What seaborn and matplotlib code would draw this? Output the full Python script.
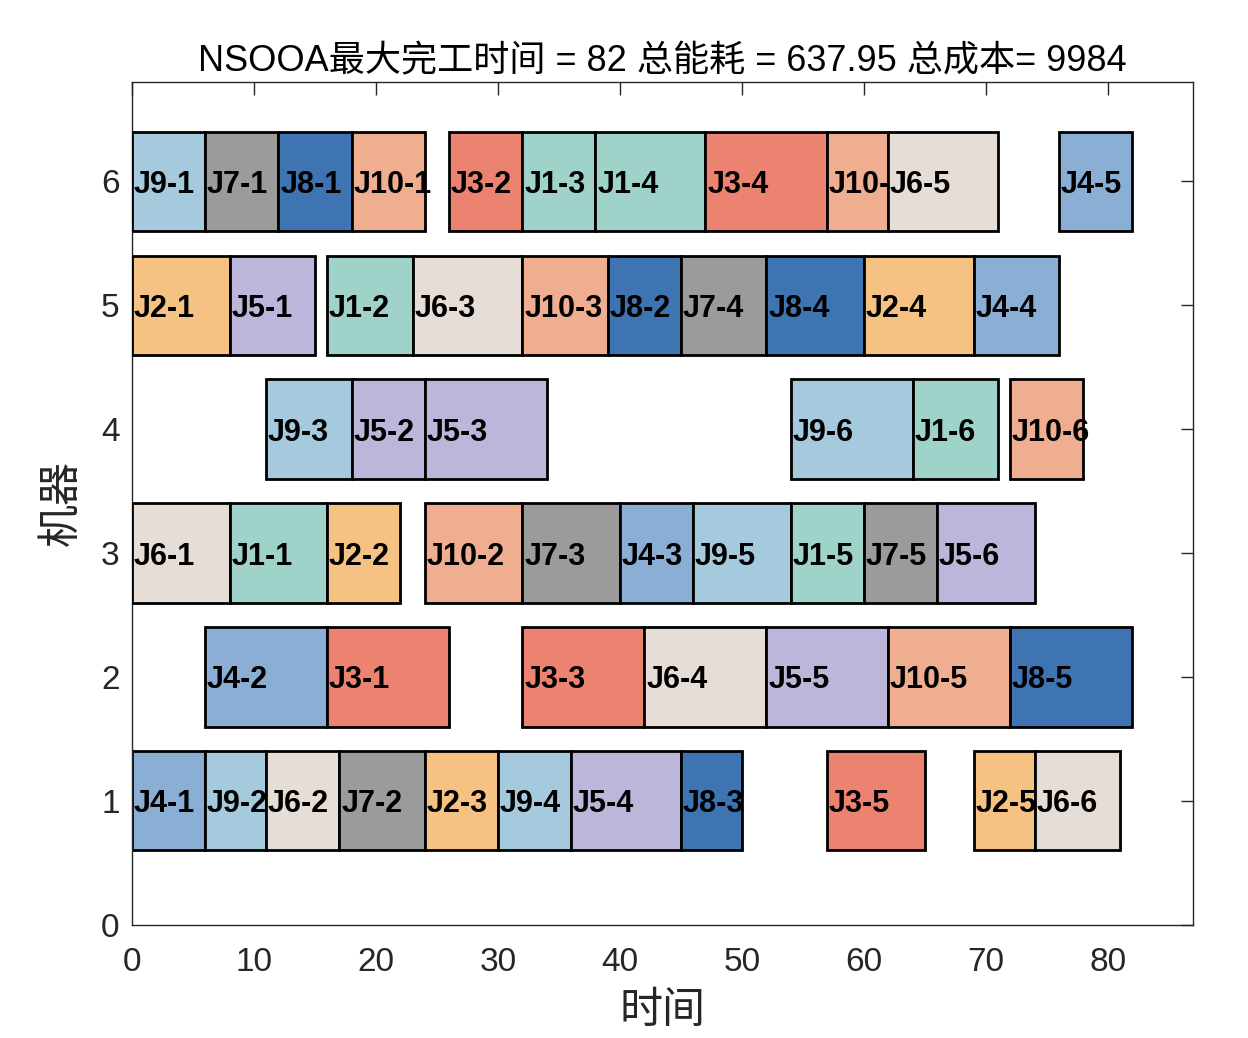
import numpy as np
import pandas as pd
import seaborn as sns
import matplotlib.pyplot as plt

# operations: machine, job, operation index, start, end
machine = [6, 6, 6, 6, 6, 6, 6, 6, 6, 6, 6,
           5, 5, 5, 5, 5, 5, 5, 5, 5, 5,
           4, 4, 4, 4, 4, 4,
           3, 3, 3, 3, 3, 3, 3, 3, 3, 3,
           2, 2, 2, 2, 2, 2, 2,
           1, 1, 1, 1, 1, 1, 1, 1, 1, 1, 1]
job = [9, 7, 8, 10, 3, 1, 1, 3, 10, 6, 4,
       2, 5, 1, 6, 10, 8, 7, 8, 2, 4,
       9, 5, 5, 9, 1, 10,
       6, 1, 2, 10, 7, 4, 9, 1, 7, 5,
       4, 3, 3, 6, 5, 10, 8,
       4, 9, 6, 7, 2, 9, 5, 8, 3, 2, 6]
op = [1, 1, 1, 1, 2, 3, 4, 4, 4, 5, 5,
      1, 1, 2, 3, 3, 2, 4, 4, 4, 4,
      3, 2, 3, 6, 6, 6,
      1, 1, 2, 2, 3, 3, 5, 5, 5, 6,
      2, 1, 3, 4, 5, 5, 5,
      1, 2, 2, 2, 3, 4, 4, 3, 5, 5, 6]
start = [0, 6, 12, 18, 26, 32, 38, 47, 57, 62, 76,
         0, 8, 16, 23, 32, 39, 45, 52, 60, 69,
         11, 18, 24, 54, 64, 72,
         0, 8, 16, 24, 32, 40, 46, 54, 60, 66,
         6, 16, 32, 42, 52, 62, 72,
         0, 6, 11, 17, 24, 30, 36, 45, 57, 69, 74]
end = [6, 12, 18, 24, 32, 38, 47, 57, 62, 71, 82,
       8, 15, 23, 32, 39, 45, 52, 60, 69, 76,
       18, 24, 34, 64, 71, 78,
       8, 16, 22, 32, 40, 46, 54, 60, 66, 74,
       16, 26, 42, 52, 62, 72, 82,
       6, 11, 17, 24, 30, 36, 45, 50, 65, 74, 81]

job_colors = {1: "#9fd2c9", 2: "#f6c283", 3: "#ec8371", 4: "#8aaed4",
              5: "#bdb6db", 6: "#e6ddd6", 7: "#9b9b9b", 8: "#3e74b1",
              9: "#a5c9dd", 10: "#efae90"}

df = pd.DataFrame({"machine": machine, "job": job, "op": op,
                   "start": start, "end": end})
df["dur"] = df["end"] - df["start"]
df["label"] = "J" + df["job"].astype(str) + "-" + df["op"].astype(str)
df = df.sort_values(["machine", "start"]).reset_index(drop=True)

sns.set_style("white")
plt.rcParams["font.family"] = ["Liberation Sans", "Noto Sans CJK SC"]

fig = plt.figure(figsize=(12.48, 10.38), dpi=100)
ax = fig.add_axes([0.1058, 0.109, 0.8502, 0.812])

# later bars cover the overflowing text of earlier ones
for i, r in df.iterrows():
    ax.barh(r["machine"], r["dur"], left=r["start"], height=0.8,
            color=job_colors[r["job"]], edgecolor="black", linewidth=2,
            zorder=2 + 2 * i)
    ax.text(r["start"] + 0.15, r["machine"], r["label"], ha="left",
            va="center_baseline", fontsize=22, fontweight="bold",
            color="black", zorder=3 + 2 * i)

ax.set_xlim(0, 87)
ax.set_ylim(0, 6.8)
ax.set_xticks(np.arange(0, 90, 10))
ax.set_yticks(np.arange(0, 7))
ax.tick_params(direction="in", length=9, width=1, top=True, right=True,
               labelsize=24, colors="#262626", labelcolor="#262626")
ax.tick_params(axis="x", pad=16)
ax.tick_params(axis="y", pad=9)
for s in ax.spines.values():
    s.set_color("#262626")
    s.set_linewidth(1)

ax.set_title("NSOOA最大完工时间 = 82 总能耗 = 637.95 总成本= 9984",
             fontsize=26, pad=8, color="black")
ax.set_xlabel("时间", fontsize=31, labelpad=8, family=["Noto Sans CJK SC"],
              fontweight="light", color="#262626")
ax.set_ylabel("机器", fontsize=31, labelpad=12, family=["Noto Sans CJK SC"],
              fontweight="light", color="#262626")

fig.savefig("out.png", dpi=100)
